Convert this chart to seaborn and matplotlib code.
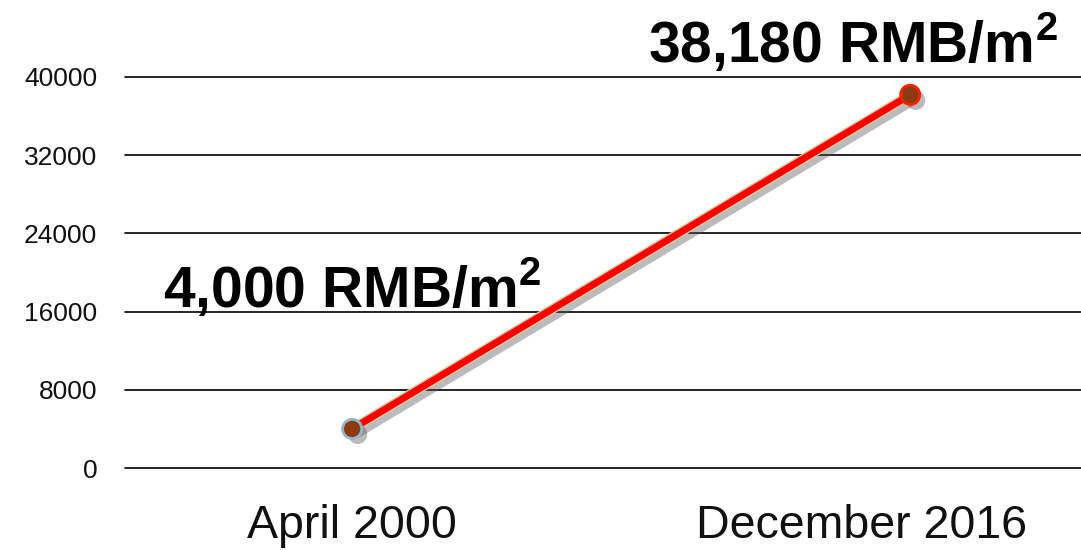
import matplotlib
matplotlib.use("Agg")
import matplotlib.pyplot as plt
import matplotlib.patheffects as pe
import matplotlib.transforms as mtransforms
import seaborn as sns
import pandas as pd

# Data
periods = ["April 2000", "December 2016"]
price = [4000, 38180]
labels = ["4,000 RMB/m$^{\\mathbf{2}}$", "38,180 RMB/m$^{\\mathbf{2}}$"]
yticks = [0, 8000, 16000, 24000, 32000, 40000]

df = pd.DataFrame({"period": periods, "price": price})

sns.set_theme(style="white")
plt.rcParams["font.family"] = ["Liberation Sans", "DejaVu Sans"]
plt.rcParams["mathtext.fontset"] = "custom"
plt.rcParams["mathtext.bf"] = "Liberation Sans:bold"
plt.rcParams["mathtext.rm"] = "Liberation Sans"

fig = plt.figure(figsize=(10.81, 5.5), dpi=100)
ax = fig.add_axes([125 / 1081, 82 / 550, (1081 - 125) / 1081, 391 / 550])

sns.lineplot(data=df, x="period", y="price", ax=ax, color="#ff0000", lw=5,
             sort=False, solid_capstyle="round", zorder=3,
             path_effects=[pe.SimpleLineShadow(offset=(4, -4), shadow_color="#555555", alpha=0.4),
                           pe.Stroke(linewidth=7, foreground="#d8c9a0"),
                           pe.Normal()])
sns.scatterplot(data=df, x="period", y="price", ax=ax, s=190, color="#8b3a12",
                edgecolor=["#8fb6cf", "#ff2000"], linewidth=2, zorder=4,
                path_effects=[pe.SimplePatchShadow(offset=(4, -4), shadow_rgbFace="#555555", alpha=0.4),
                              pe.Normal()])

ax.set_ylim(0, 40000)
ax.set_xlim(-0.407, 1.306)
ax.set_yticks(yticks)
ax.set_yticklabels([str(v) for v in yticks], fontsize=19, color="#111111")
ax.tick_params(axis="y", length=0, pad=20)
ax.tick_params(axis="x", length=0, pad=26, labelsize=33.5, labelcolor="#111111")
ax.set_xlabel("")
ax.set_ylabel("")
ax.grid(axis="y", color="black", lw=1.2)
ax.grid(axis="x", visible=False)
for gl in ax.get_ygridlines():
    gl.set_clip_on(False)
for s in ax.spines.values():
    s.set_visible(False)

# shift the second category label left, as in the reference
xt = ax.get_xticklabels()
shift = mtransforms.ScaledTranslation(-49 / 100, 0, fig.dpi_scale_trans)
xt[1].set_transform(xt[1].get_transform() + shift)

ax.text(-0.339, 18400, labels[0], fontsize=41, fontweight="bold", va="center", ha="left",
        color="black", clip_on=False)
ax.text(0.530, 43400, labels[1], fontsize=41, fontweight="bold", va="center", ha="left",
        color="black", clip_on=False)

fig.savefig("out.png", dpi=100)
